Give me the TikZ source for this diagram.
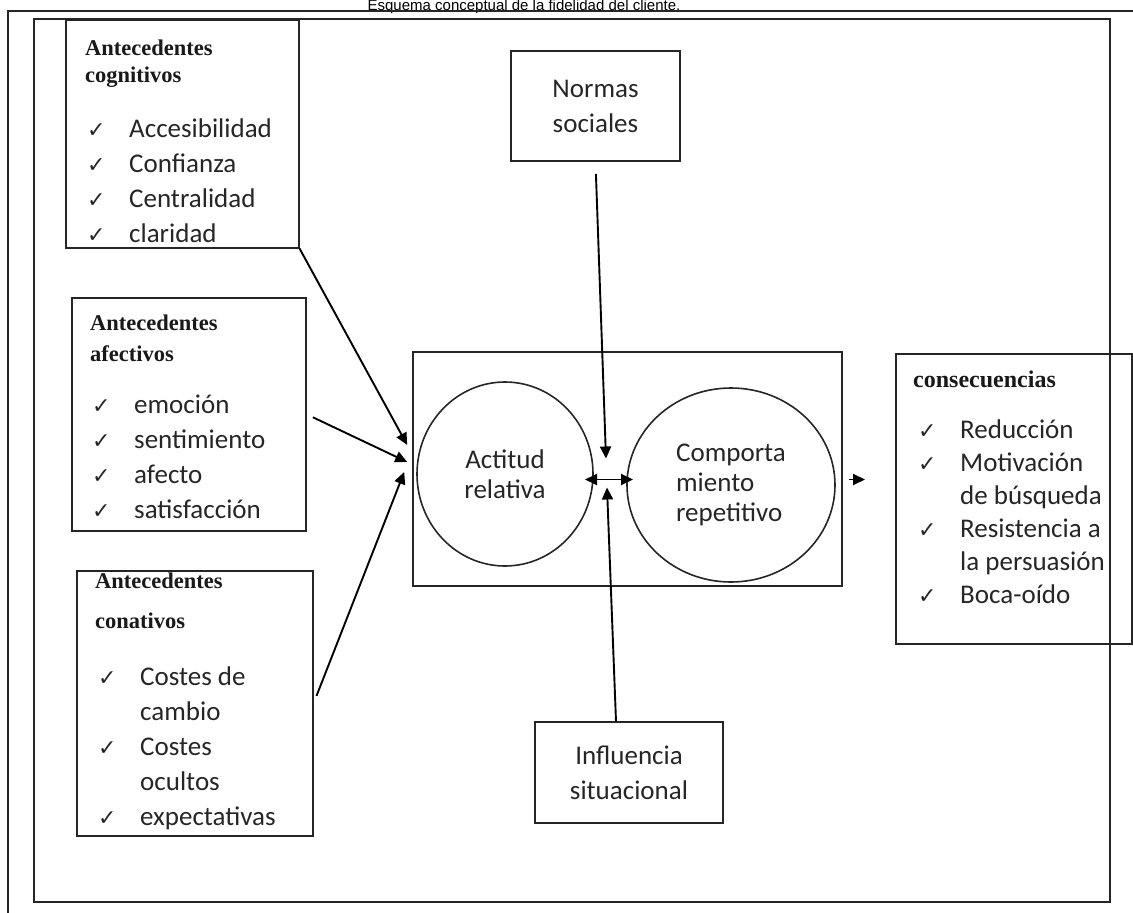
\documentclass[tikz,border=0pt]{standalone}
\usepackage{fontspec}
\setmainfont{Carlito}
\newfontfamily\headfont{Liberation Serif}
\newfontfamily\titlefont{Liberation Sans}
\newfontfamily\symfont{DejaVu Sans}
\usetikzlibrary{shapes.geometric, arrows.meta, positioning, calc}
\newcommand{\tickmk}{\makebox[42pt][l]{\symfont\fontsize{22}{22}\selectfont ✓}}
\newcommand{\tickno}{\hspace*{42pt}}
\tikzset{
	frame/.style={draw=black!85, line width=1.6pt},
	listbox/.style={rectangle, draw=black!85, line width=1.6pt, anchor=north west, inner sep=0pt},
	headtxt/.style={anchor=base west, inner sep=0pt, text=black!90, font=\headfont\bfseries\fontsize{22}{28}\selectfont},
	listtxt/.style={anchor=base west, inner sep=0pt, text=black!85, font=\fontsize{27}{35}\selectfont},
	textbox/.style={rectangle, draw=black!85, line width=1.6pt, align=center, inner sep=0pt, text=black!85, font=\fontsize{27}{35}\selectfont},
	stage/.style={ellipse, draw=black!85, line width=1.6pt, inner sep=0pt, text=black!85, font=\fontsize{27}{30}\selectfont},
	sig/.style={-{Triangle[length=12pt, width=11pt]}, line width=1.9pt},
}

\begin{document}
\begin{tikzpicture}[x=1pt, y=-1pt]
	\useasboundingbox (0,0) rectangle (1133,913);
	\node[anchor=base, inner sep=0pt, font=\titlefont\fontsize{15}{15}\selectfont] (ttl) at (524,10.5) {Esquema conceptual de la fidelidad del cliente.};
	\draw[frame] (8,913) -- (8,11) -- (1140,11);
	\draw[frame] (34,19) rectangle (1110,902);
	% antecedentes
	\node[listbox, minimum width=233pt, minimum height=228pt] (cog) at (65,19) {};
	\node[headtxt, font=\headfont\bfseries\fontsize{22.5}{27}\selectfont] (cogh) at (85,55) {\begin{tabular}[t]{@{}l@{}}Antecedentes\\cognitivos\end{tabular}};
	\node[listtxt] (cogl) at (87,137) {\begin{tabular}[t]{@{}l@{}}\tickmk Accesibilidad\\\tickmk Confianza\\\tickmk Centralidad\\\tickmk claridad\end{tabular}};
	\node[listbox, minimum width=234pt, minimum height=233pt] (afe) at (71,297) {};
	\node[headtxt, font=\headfont\bfseries\fontsize{22.5}{31}\selectfont] (afeh) at (90,330) {\begin{tabular}[t]{@{}l@{}}Antecedentes\\afectivos\end{tabular}};
	\node[listtxt] (afel) at (92,413) {\begin{tabular}[t]{@{}l@{}}\tickmk emoción\\\tickmk sentimiento\\\tickmk afecto\\\tickmk satisfacción\end{tabular}};
	\node[listbox, minimum width=236pt, minimum height=265pt] (con) at (76,570) {};
	\node[headtxt, font=\headfont\bfseries\fontsize{22.5}{40}\selectfont] (conh) at (95,588) {\begin{tabular}[t]{@{}l@{}}Antecedentes\\conativos\end{tabular}};
	\node[listtxt] (conl) at (98,685) {\begin{tabular}[t]{@{}l@{}}\tickmk Costes de\\\tickno cambio\\\tickmk Costes\\\tickno ocultos\\\tickmk expectativas\end{tabular}};
	% nucleo
	\node[rectangle, frame, minimum width=429pt, minimum height=234pt] (core) at (627.5,469) {};
	\node[stage, minimum width=176pt, minimum height=184pt, align=center] (act) at (505,474) {Actitud\\relativa};
	\node[stage, minimum width=208pt, minimum height=194pt, align=left] (rep) at (731,485) {Comporta\\miento\\repetitivo};
	\coordinate (hub) at ($(act.east)!0.5!(rep.west)$);
	\node[textbox, minimum width=169pt, minimum height=110pt] (norm) at (595.5,106) {Normas\\sociales};
	\node[textbox, minimum width=188pt, minimum height=101pt] (infl) at (629,772.5) {Influencia\\situacional};
	% consecuencias
	\node[listbox, minimum width=236pt, minimum height=290pt] (cons) at (895,353) {};
	\node[headtxt, font=\headfont\bfseries\fontsize{24}{28}\selectfont] (consh) at (913,387) {consecuencias};
	\node[listtxt, font=\fontsize{27}{33}\selectfont] (consl) at (918,438) {\begin{tabular}[t]{@{}l@{}}\tickmk Reducción\\\tickmk Motivación\\\tickno de búsqueda\\\tickmk Resistencia a\\\tickno la persuasión\\\tickmk Boca-oído\end{tabular}};
	% flechas
	\draw[sig] (cog.south east) -- ([shift={(-9,-29)}]act.west);
	\draw[sig, shorten <=7pt] (afe.east) -- ([shift={(-9,-12)}]act.west);
	\draw[sig, shorten <=8pt] (con.east) -- ([shift={(-12,-2)}]act.west);
	\draw[sig, shorten <=12pt] (norm.south) -- ([shift={(-4,-21)}]hub);
	\draw[sig] ([xshift=-13pt]infl.north) -- ([shift={(-3,8)}]hub);
	\draw[sig, {Triangle[length=12pt, width=11pt]}-{Triangle[length=12pt, width=11pt]}] ([xshift=-25pt]hub) -- ([xshift=23pt]hub);
	\draw[sig, shorten <=6pt, shorten >=30pt] (core.east |- hub) -- (cons.west |- hub);
\end{tikzpicture}
\end{document}
